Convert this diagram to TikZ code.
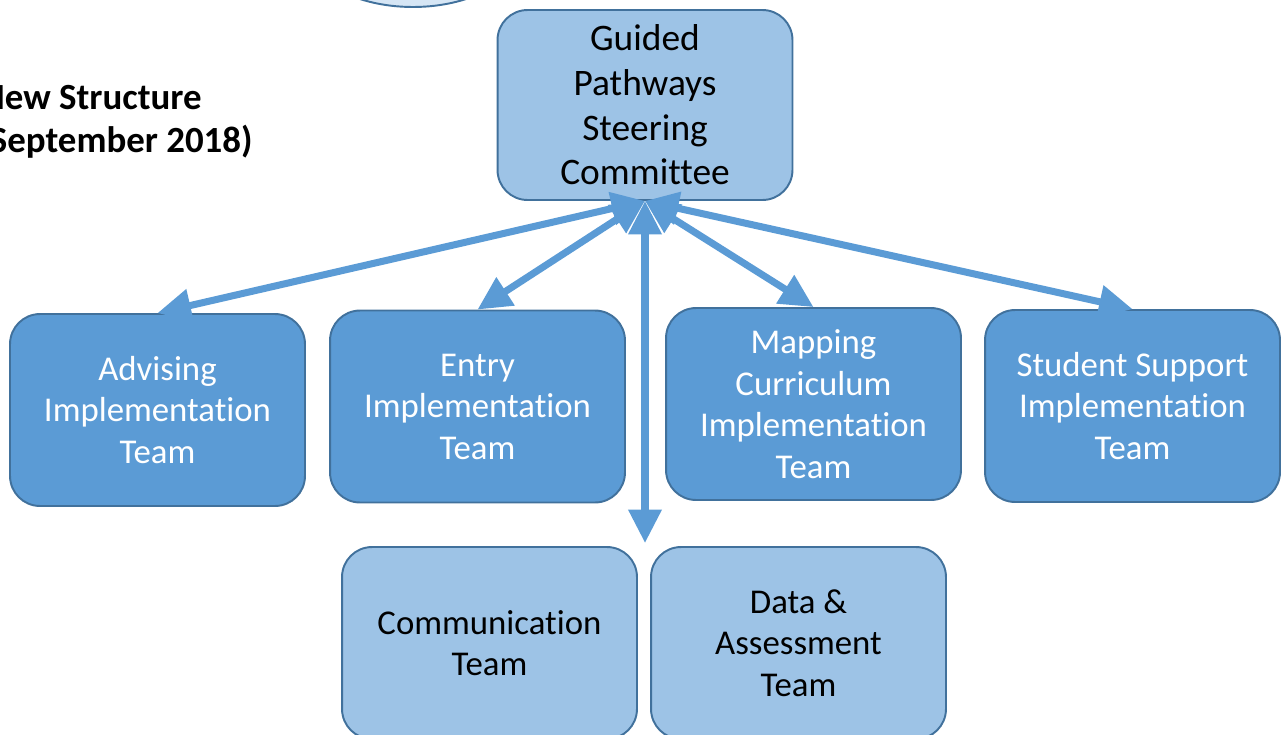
\documentclass[tikz,border=0pt]{standalone}
\usepackage{fontspec}
\setmainfont{Carlito}[Ligatures=NoCommon]
\usetikzlibrary{arrows.meta}
\usetikzlibrary{positioning}

\definecolor{lightblue}{HTML}{9DC3E6}
\definecolor{midblue}{HTML}{5B9BD5}
\definecolor{edgeblue}{HTML}{41719C}
\definecolor{paleblue}{HTML}{D6E6F5}

\begin{document}
\begin{tikzpicture}[x=0.02cm,y=-0.02cm,
  team/.style={draw=edgeblue, line width=1.1pt, rounded corners=0.6cm,
    minimum width=5.9cm, minimum height=3.84cm, inner sep=0pt,
    align=center, font=\fontsize{19.8}{23.6}\selectfont},
  darkteam/.style={team, fill=midblue, text=white},
  lightteam/.style={team, fill=lightblue, text=black},
  heading/.style={inner sep=0pt, font=\fontsize{21}{25}\selectfont\bfseries},
  link/.style={midblue, line width=4pt,
    {Triangle[length=0.67cm,width=0.64cm]}-{Triangle[length=0.67cm,width=0.64cm]}}]

  % page frame
  \useasboundingbox (0,0) rectangle (1283,734);

  % bubble cut off at the top edge
  \draw[draw=edgeblue, fill=paleblue, line width=1.1pt]
    (413,-60) ellipse [x radius=112, y radius=67];

  % heading
  \node[heading, anchor=east] (newstruct) at (202,98) {New Structure};
  \node[heading, anchor=east] (sept) at (253,142) {(September 2018)};

  % steering committee
  \node[lightteam, minimum height=3.8cm, font=\fontsize{21.3}{25.4}\selectfont]
    (steer) at (645,105) {Guided\\Pathways\\Steering\\Committee};

  % implementation teams
  \node[darkteam] (advise) at (157.5,410) {Advising\\Implementation\\Team};
  \node[darkteam] (entry) at (477.5,406.5) {Entry\\Implementation\\Team};
  \node[darkteam] (mapping) at (813.5,404) {Mapping\\Curriculum\\Implementation\\Team};
  \node[darkteam] (support) at (1132.5,406) {Student Support\\Implementation\\Team};

  % other teams
  \node[lightteam] (comms) at (489.5,643) {Communication\\Team};
  \node[lightteam] (data) at (798.5,643) {Data \&\\Assessment\\Team};

  % end of the downward link, between the two lower boxes
  \coordinate (gap) at (645,543);

  % links
  \draw[link] (steer.south) -- (advise.north);
  \draw[link] (steer.south) -- (entry.north);
  \draw[link] (steer.south) -- (mapping.north);
  \draw[link] (steer.south) -- (support.north);
  \draw[link] (steer.south) -- (gap);

\end{tikzpicture}
\end{document}
